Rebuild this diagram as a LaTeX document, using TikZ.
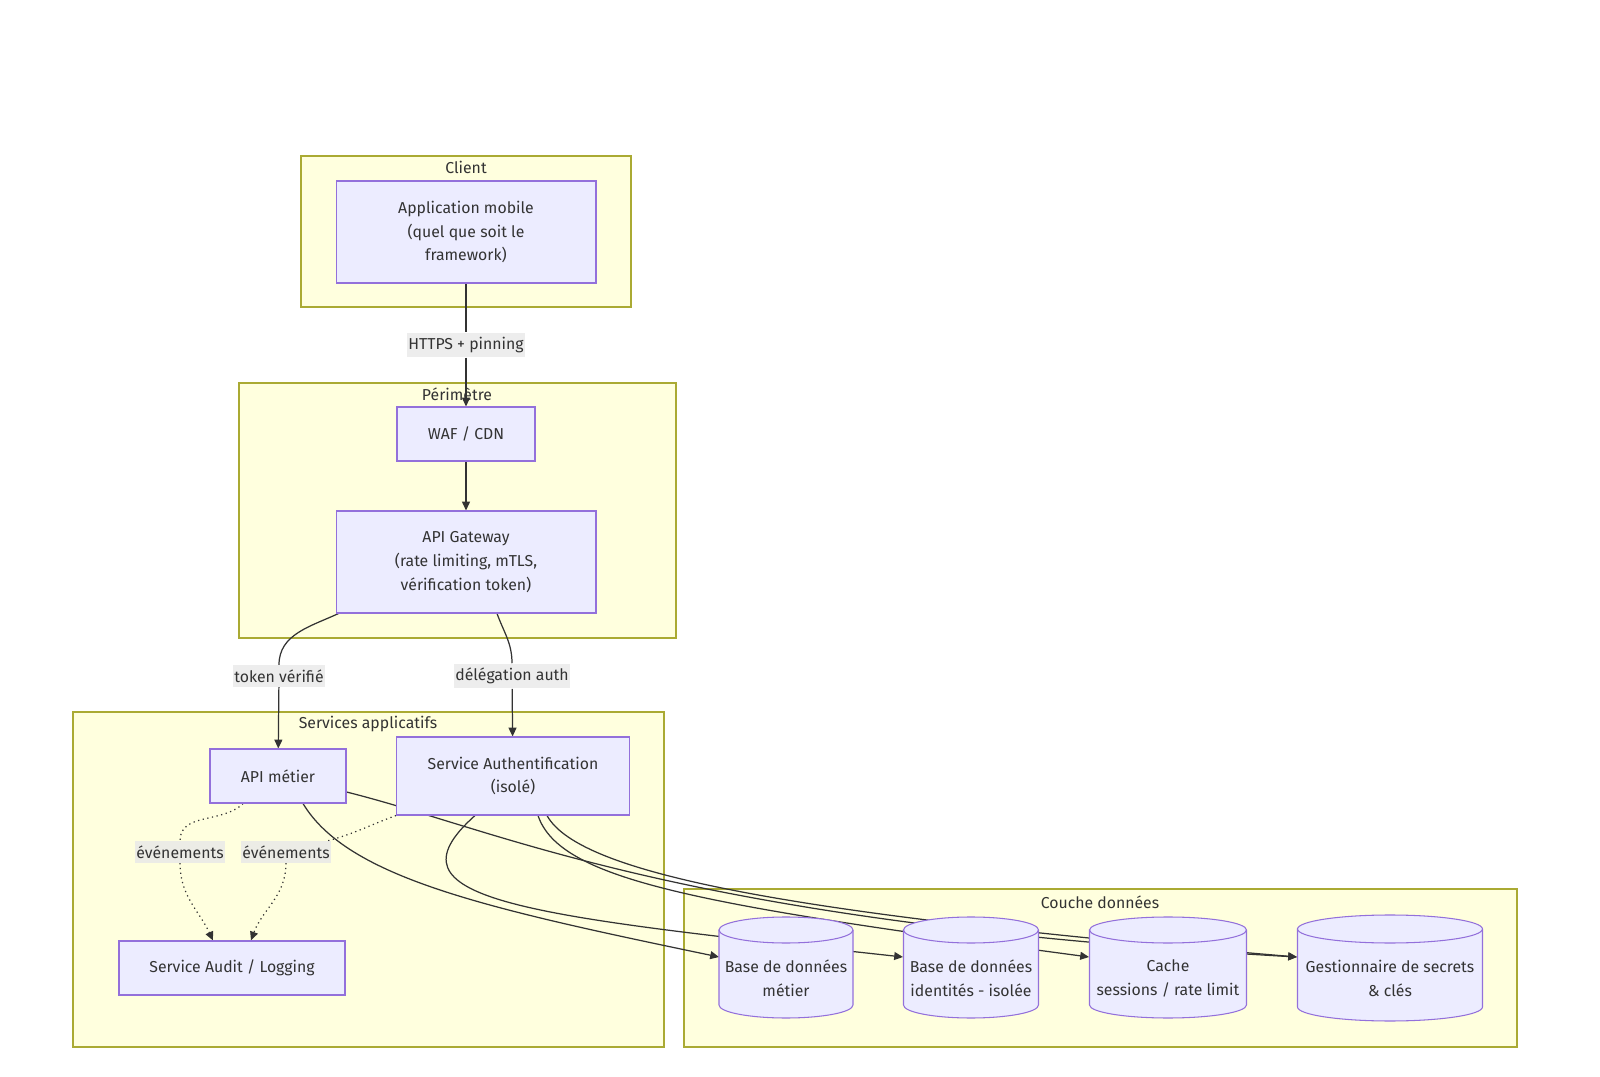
\documentclass[tikz,border=0pt]{standalone}
\usepackage{fontspec}
\setmainfont{Fira Sans}
\usetikzlibrary{arrows.meta,calc}
\definecolor{nodefill}{HTML}{ECECFF}
\definecolor{nodeline}{HTML}{9370DB}
\definecolor{grpfill}{HTML}{FFFFDE}
\definecolor{grpline}{HTML}{AAAA33}
\definecolor{ink}{HTML}{333333}
\definecolor{lblfill}{HTML}{E8E8E8}
\pgfdeclarelayer{groups}
\pgfdeclarelayer{links}
\pgfdeclarelayer{shapes}
\pgfsetlayers{groups,links,shapes,main}
\tikzset{
  txt/.style={text=ink, font=\fontsize{9}{13.6}\selectfont},
  box/.style={txt, draw=nodeline, fill=nodefill, line width=0.6pt, align=center},
  store/.style={txt, align=center},
  dbline/.style={draw=nodeline, fill=nodefill, line width=0.6pt},
  grp/.style={draw=grpline, fill=grpfill, line width=0.6pt},
  lbl/.style={txt, fill=lblfill, fill opacity=0.8, text opacity=1, inner xsep=1pt, inner ysep=2.5pt},
  link/.style={draw=ink, line width=0.7pt, -{Triangle[length=5pt,width=4.5pt]}},
  evt/.style={link, dotted}
}
% cylinder round a store node: name, half width (px), ry (cm), rx (cm), top and bottom offsets (px)
\newcommand{\dbshape}[6]{%
  \path[dbline] ($(#1)+(-#2,#5)$) -- ($(#1)+(-#2,-#6)$)
    arc[start angle=180, end angle=360, x radius=#4, y radius=#3]
    -- ($(#1)+(#2,#5)$)
    arc[start angle=0, end angle=180, x radius=#4, y radius=#3] -- cycle;
  \draw[dbline, fill=none] ($(#1)+(-#2,#5)$)
    arc[start angle=180, end angle=360, x radius=#4, y radius=#3];
}
\begin{document}
\begin{tikzpicture}[x=0.02cm, y=0.02cm]
\useasboundingbox (0,0) rectangle (1600,-1077);
% groups
\begin{pgfonlayer}{groups}
\draw[grp] (301,-156) rectangle (631,-307);
\draw[grp] (239,-383) rectangle (676,-638);
\draw[grp] (73,-712) rectangle (664,-1047);
\draw[grp] (684,-889) rectangle (1517,-1047);
\end{pgfonlayer}
\node[txt] (tclient) at (466,-167) {Client};
\node[txt] (tperim) at (457,-394) {Périmètre};
\node[txt] (tsvc) at (368,-724) {Services applicatifs};
\node[txt] (tdata) at (1100,-902) {Couche données};
% nodes
\node[box, minimum width=5.2cm, minimum height=2.04cm] (app) at (466,-232) {Application mobile\\(quel que soit le\\framework)};
\node[box, minimum width=2.76cm, minimum height=1.08cm] (waf) at (466,-434) {WAF / CDN};
\node[box, minimum width=5.2cm, minimum height=2.04cm] (gw) at (466,-562) {API Gateway\\(rate limiting, mTLS,\\vérification token)};
\node[box, minimum width=2.72cm, minimum height=1.08cm] (api) at (278,-776) {API métier};
\node[box, minimum width=4.66cm, minimum height=1.56cm] (auth) at (513,-776) {Service Authentification\\(isolé)};
\node[box, minimum width=4.52cm, minimum height=1.08cm] (audit) at (232,-968) {Service Audit / Logging};
\node[store] (bddm) at (786,-978) {Base de données\\métier};
\node[store] (bddi) at (971,-978) {Base de données\\identités - isolée};
\node[store] (cache) at (1168,-978) {Cache\\sessions / rate limit};
\node[store] (vault) at (1390,-978) {Gestionnaire de secrets\\\& clés};
\begin{pgfonlayer}{shapes}
\dbshape{bddm}{67}{0.26cm}{1.34cm}{48}{27}
\dbshape{bddi}{67.5}{0.26cm}{1.35cm}{48}{27}
\dbshape{cache}{78.5}{0.26cm}{1.57cm}{48}{27}
\dbshape{vault}{92.5}{0.28cm}{1.85cm}{49}{29}
\end{pgfonlayer}
% edge labels
\node[lbl] (https) at (466,-345) {HTTPS + pinning};
\node[lbl] (tokv) at (279,-676) {token vérifié};
\node[lbl] (deleg) at (512,-676) {délégation auth};
\node[lbl] (ev1) at (180,-852) {événements};
\node[lbl] (ev2) at (286,-852) {événements};
% edges
\begin{pgfonlayer}{links}
\draw[link] (app) -- (https) -- (waf);
\draw[link] (waf) -- (gw);
\draw[link] ($(gw.south west)+(3,0)$) to[out=205,in=90] (tokv) -- (api);
\draw[link] ($(gw.south)+(31,0)$) to[out=-70,in=90] (deleg) -- (auth);
\draw[evt] ($(api.south)+(-35,0)$) to[out=-135,in=90] (ev1) to[out=-90,in=115] ($(audit.north)+(-19,0)$);
\draw[evt] (auth.south west) to[out=200,in=15] (ev2) to[out=-90,in=70] ($(audit.north)+(19,0)$);
\draw[link] ($(api.south)+(25,0)$) .. controls +(45,-75) and +(-230,48) .. ($(bddm)+(-67,21)$);
\draw[link] ($(api.east)+(0,-16)$) .. controls +(160,-40) and +(-620,35) .. ($(vault)+(-93,21)$);
\draw[link] ($(auth.south)+(-38,0)$) .. controls +(-95,-85) and +(-384,42) .. ($(bddi)+(-68,21)$);
\draw[link] ($(auth.south)+(25,0)$) .. controls +(22,-65) and +(-390,52) .. ($(cache)+(-79,21)$);
\draw[link] ($(auth.south)+(34,0)$) .. controls +(33,-60) and +(-497,42) .. ($(vault)+(-93,21)$);
\end{pgfonlayer}
\end{tikzpicture}
\end{document}
